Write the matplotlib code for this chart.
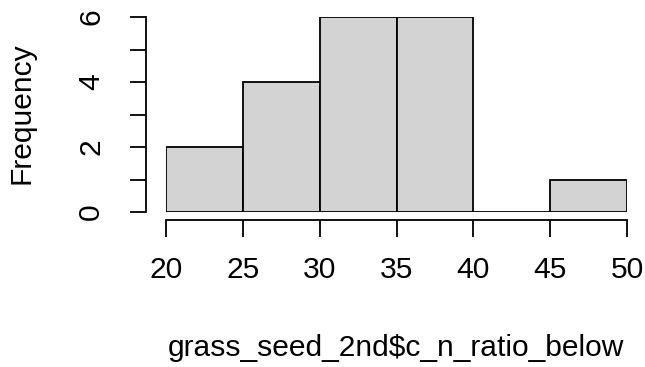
import matplotlib.pyplot as plt

# histogram of grass_seed_2nd$c_n_ratio_below (R base style)
bin_edges = [20, 25, 30, 35, 40, 45, 50]
counts = [2, 4, 6, 6, 0, 1]
x_ticks = [20, 25, 30, 35, 40, 45, 50]
y_ticks = [0, 1, 2, 3, 4, 5, 6]
y_labels = ['0', '', '2', '', '4', '', '6']
x_label = 'grass_seed_2nd$c_n_ratio_below'
y_label = 'Frequency'

plt.rcParams['font.family'] = ['Liberation Sans', 'DejaVu Sans']
fs = 21.6
lw = 1.3

W, H = 645, 367
fig = plt.figure(figsize=(W / 100, H / 100), dpi=100)
ax = fig.add_axes([166 / W, 1 - 212 / H, (627 - 166) / W, (212 - 17) / H])

lefts = bin_edges[:-1]
widths = [b - a for a, b in zip(bin_edges[:-1], bin_edges[1:])]
ax.bar(lefts, counts, width=widths, align='edge', color='#d3d3d3',
       edgecolor='black', linewidth=lw)

ax.set_xlim(bin_edges[0], bin_edges[-1])
ax.set_ylim(0, 6)

for s in ['top', 'right']:
    ax.spines[s].set_visible(False)
ax.spines['left'].set_position(('outward', 14.4))
ax.spines['bottom'].set_position(('outward', 5.8))
ax.spines['left'].set_bounds(0, 6)
ax.spines['bottom'].set_bounds(20, 50)
ax.spines['left'].set_linewidth(lw)
ax.spines['bottom'].set_linewidth(lw)

ax.set_xticks(x_ticks)
ax.set_yticks(y_ticks)
ax.set_yticklabels(y_labels, rotation=90, va='center')
ax.tick_params(axis='x', length=12, width=lw, pad=14, labelsize=fs)
ax.tick_params(axis='y', length=11.5, width=lw, pad=18, labelsize=fs)

fig.text(396 / W, 1 - 348 / H, x_label, ha='center', va='center', fontsize=fs)
fig.text(22 / W, 1 - 113 / H, y_label, ha='center', va='center',
         rotation=90, fontsize=fs)

fig.savefig('out.png', dpi=100)
